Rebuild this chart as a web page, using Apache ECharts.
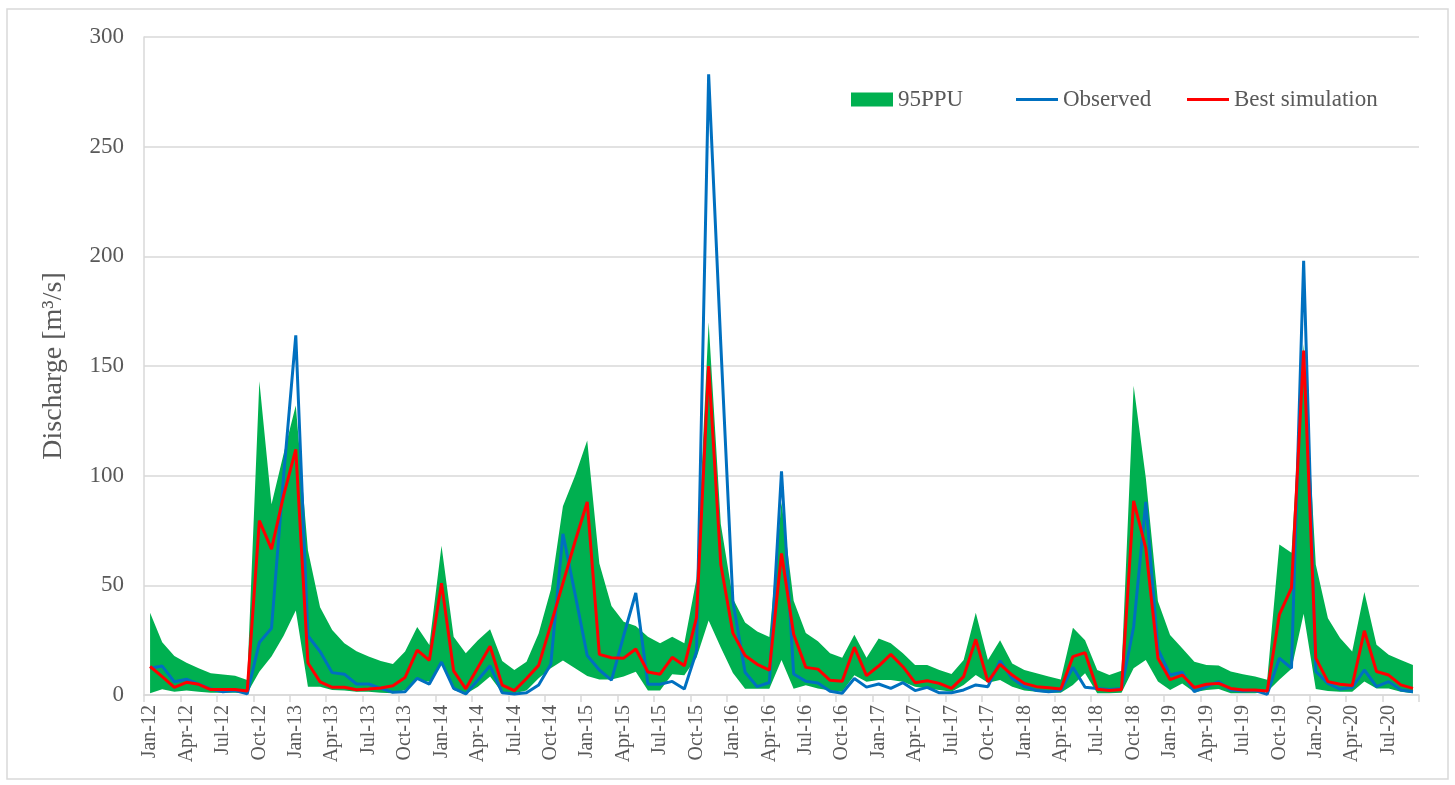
<!DOCTYPE html>
<html>
<head>
<meta charset="utf-8">
<title>Discharge 95PPU</title>
<script src="https://cdn.jsdelivr.net/npm/echarts@6/dist/echarts.min.js"></script>
<style>
  html, body { margin: 0; padding: 0; background: #fff; }
  #chart { width: 1455px; height: 785px; }
</style>
</head>
<body>
<div id="chart"></div>
<script>
  // monthly categories, Jan-12 .. Sep-20
  var months = [
    'Jan-12','Feb-12','Mar-12','Apr-12','May-12','Jun-12','Jul-12','Aug-12','Sep-12','Oct-12','Nov-12','Dec-12',
    'Jan-13','Feb-13','Mar-13','Apr-13','May-13','Jun-13','Jul-13','Aug-13','Sep-13','Oct-13','Nov-13','Dec-13',
    'Jan-14','Feb-14','Mar-14','Apr-14','May-14','Jun-14','Jul-14','Aug-14','Sep-14','Oct-14','Nov-14','Dec-14',
    'Jan-15','Feb-15','Mar-15','Apr-15','May-15','Jun-15','Jul-15','Aug-15','Sep-15','Oct-15','Nov-15','Dec-15',
    'Jan-16','Feb-16','Mar-16','Apr-16','May-16','Jun-16','Jul-16','Aug-16','Sep-16','Oct-16','Nov-16','Dec-16',
    'Jan-17','Feb-17','Mar-17','Apr-17','May-17','Jun-17','Jul-17','Aug-17','Sep-17','Oct-17','Nov-17','Dec-17',
    'Jan-18','Feb-18','Mar-18','Apr-18','May-18','Jun-18','Jul-18','Aug-18','Sep-18','Oct-18','Nov-18','Dec-18',
    'Jan-19','Feb-19','Mar-19','Apr-19','May-19','Jun-19','Jul-19','Aug-19','Sep-19','Oct-19','Nov-19','Dec-19',
    'Jan-20','Feb-20','Mar-20','Apr-20','May-20','Jun-20','Jul-20','Aug-20','Sep-20'
  ];

  // 95PPU band, upper and lower limit
  var ppuUpper = [
    37.5, 24, 17.8, 14.7, 12.2, 9.9, 9.4, 8.8, 6.8, 143, 87, 110,
    132, 66, 40, 29.6, 23.6, 20, 17.5, 15.5, 14.1, 19.8, 31, 22.8,
    68, 26.6, 19, 25, 30, 15.5, 11.4, 15.2, 28, 48, 86, 100,
    116, 60, 40.6, 33.4, 31.5, 26.6, 23.6, 26.6, 23.6, 53, 170, 78,
    44, 33, 29, 26.4, 88, 43, 28.3, 24.5, 19, 17, 27.5, 17,
    25.8, 23.6, 19, 13.7, 13.7, 11.4, 9.6, 16, 37.5, 16, 25, 14.4,
    11.4, 9.9, 8.4, 7.1, 30.7, 25, 11.4, 9.1, 11, 141, 99, 42.7,
    27.4, 21.3, 15.2, 13.7, 13.4, 10.7, 9.5, 8.4, 6.9, 68.6, 64.8, 160,
    59.5, 35, 26, 19.8, 47, 22.9, 18.3, 16, 13.7
  ];
  var ppuLower = [
    0.8, 2.6, 1.5, 2, 1.5, 1, 1, 1, 0.8, 10.6, 17.5, 27,
    38.5, 3.8, 3.8, 2.3, 2, 1.5, 1.5, 1, 0.8, 2.3, 7.1, 6,
    14, 2.3, 0.5, 3.8, 8.4, 1, 0.8, 2, 7.6, 12.2, 15.7, 12.2,
    8.7, 7.1, 7.1, 8.4, 10.6, 2, 2, 9.5, 9, 17, 34, 21.7,
    10, 2.8, 2.8, 2.8, 16, 2.8, 4.5, 3, 2, 1.5, 9, 6,
    6.8, 6.8, 6, 3.8, 3, 2.3, 1.5, 4.6, 9.1, 5.6, 6.8, 3.8,
    2, 1.5, 1, 1, 4.6, 9.9, 0.8, 0.8, 1, 12.2, 16, 6.1,
    2.3, 5.3, 1.2, 2.3, 2.7, 0.8, 0.8, 0.8, 1.5, 7, 12, 37,
    2.7, 1.8, 1.5, 1.5, 6.1, 3, 3, 1.5, 0.8
  ];
  var observed = [
    12.2, 13.2, 6, 7.2, 5, 2.7, 1.5, 2, 0.5, 23.9, 30.4, 100,
    164, 27, 19.8, 10.2, 9.5, 5, 5, 3, 1.2, 1.5, 7.6, 5,
    15, 3, 0.5, 6.8, 13.3, 1, 0.5, 1, 4.6, 14, 73.5, 46,
    18, 11.4, 6.8, 27, 46.5, 4.9, 4.9, 6.2, 2.7, 19.8, 283, 160,
    42.5, 10.4, 3.8, 5.7, 102, 9.6, 6.3, 5.5, 1.7, 0.8, 7.5, 3.6,
    5, 3, 5.6, 2, 3.5, 1, 1, 2.3, 4.6, 3.8, 15.6, 7.6,
    3.8, 2, 1.5, 2, 12.6, 3.5, 3, 2.5, 3, 31, 88, 21,
    9.1, 10.4, 1.5, 3.8, 6.1, 2.3, 1.8, 2, 0.3, 16.8, 12.2, 198,
    10.7, 5.3, 2.7, 3.4, 11.4, 3.8, 6.1, 2.3, 1.5
  ];
  var bestSim = [
    13, 8.4, 3.5, 5.8, 4.9, 2.5, 2.5, 2.5, 1.8, 79.5, 66.5, 91,
    112, 14.6, 6, 3.5, 3.5, 2.4, 2.7, 3.2, 4.2, 8, 20.5, 15.8,
    51, 11, 2.8, 12.5, 22.2, 4.5, 2, 7.5, 13.5, 32, 51, 70,
    88, 18.5, 17, 16.8, 21, 10.5, 9.5, 17.2, 13.3, 35.3, 150, 59.5,
    28.2, 18, 14, 11.3, 64.5, 27.7, 12.6, 11.8, 6.7, 6.3, 21.8, 8.8,
    13.2, 18.5, 12.9, 5.6, 6.5, 5.3, 3, 8.4, 25.4, 6, 14, 9.1,
    5.3, 3.8, 3.3, 2.7, 17.5, 19.3, 2.6, 2, 2.5, 88.5, 67, 16.8,
    7, 9.1, 3.4, 4.9, 5.3, 3, 2.3, 2.3, 1.8, 36.6, 48.8, 157,
    16.8, 6.1, 4.9, 4.3, 29.3, 10.7, 9.1, 4.6, 3
  ];

  var yTicks = [0, 50, 100, 150, 200, 250, 300];

  // band thickness stacked on the lower limit
  var ppuWidth = ppuUpper.map(function (v, i) {
    return +(v - ppuLower[i]).toFixed(2);
  });

  var serifFont = '"Liberation Serif", "Times New Roman", serif';
  var textGray = '#595959';
  var lineGray = '#d9d9d9';

  var chart = echarts.init(document.getElementById('chart'));

  var legendText = {fontFamily: serifFont, fontSize: 23, color: textGray};

  var option = {
    animation: false,
    backgroundColor: '#fff',
    graphic: [{
      type: 'rect',
      shape: {x: 7, y: 9, width: 1441, height: 770},
      style: {fill: 'none', stroke: lineGray, lineWidth: 1.5}
    }],
    legend: [
      {data: [{name: '95PPU', icon: 'rect'}], left: 851, top: 88, padding: 0, itemWidth: 42, itemHeight: 14, textStyle: legendText},
      {data: [{name: 'Observed', icon: 'rect'}], left: 1016, top: 88, padding: 0, itemWidth: 42, itemHeight: 3, textStyle: legendText},
      {data: [{name: 'Best simulation', icon: 'rect'}], left: 1187, top: 88, padding: 0, itemWidth: 42, itemHeight: 3, textStyle: legendText}
    ],
    grid: {left: 144, right: 36, top: 37, bottom: 90, containLabel: false},
    xAxis: {
      type: 'category',
      data: months,
      boundaryGap: true,
      axisLine: {lineStyle: {color: lineGray, width: 1.5}},
      axisTick: {show: true, interval: 2, length: 7, lineStyle: {color: lineGray, width: 1.5}},
      axisLabel: {
        interval: 2,
        rotate: 90,
        margin: 10,
        fontFamily: serifFont,
        fontSize: 20,
        color: textGray
      },
      splitLine: {show: false}
    },
    yAxis: {
      type: 'value',
      min: yTicks[0],
      max: yTicks[yTicks.length - 1],
      interval: 50,
      name: 'Discharge [m³/s]',
      nameLocation: 'middle',
      nameGap: 76,
      nameTextStyle: {fontFamily: serifFont, fontSize: 28, color: textGray},
      axisLine: {show: true, lineStyle: {color: lineGray, width: 1.5}},
      axisTick: {show: false},
      axisLabel: {margin: 20, fontFamily: serifFont, fontSize: 23, color: textGray},
      splitLine: {lineStyle: {color: lineGray, width: 1.5}}
    },
    series: [
      {
        name: 'ppuLower',
        type: 'line',
        stack: 'ppu',
        data: ppuLower,
        symbol: 'none',
        lineStyle: {width: 0, opacity: 0},
        silent: true
      },
      {
        name: '95PPU',
        type: 'line',
        stack: 'ppu',
        data: ppuWidth,
        symbol: 'none',
        color: '#00b050',
        lineStyle: {width: 0, opacity: 0},
        areaStyle: {color: '#00b050', opacity: 1}
      },
      {
        name: 'Observed',
        type: 'line',
        data: observed,
        symbol: 'none',
        color: '#0070c0',
        lineStyle: {color: '#0070c0', width: 3}
      },
      {
        name: 'Best simulation',
        type: 'line',
        data: bestSim,
        symbol: 'none',
        color: '#ff0000',
        lineStyle: {color: '#ff0000', width: 3}
      }
    ]
  };

  chart.setOption(option);
</script>
</body>
</html>
